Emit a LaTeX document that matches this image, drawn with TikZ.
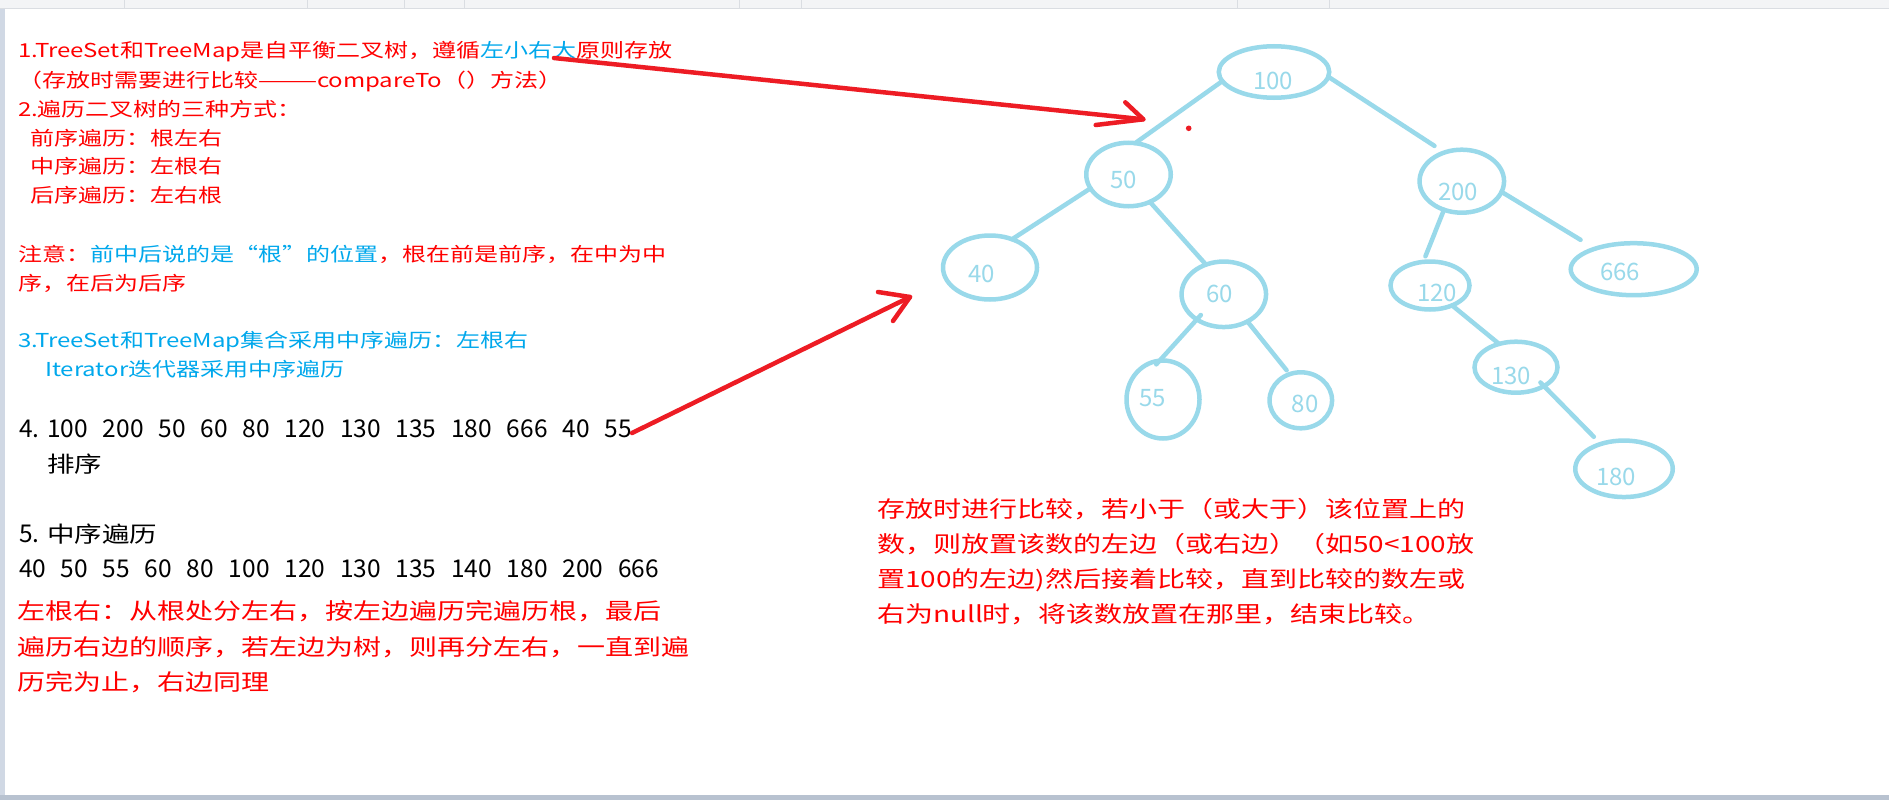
\documentclass[tikz,border=0pt]{standalone}
\usepackage{fontspec}
\usetikzlibrary{shapes.geometric,calc}
\newfontfamily\cjk[FakeStretch=1.25]{Noto Sans CJK SC}
\newfontfamily\cjkn{Noto Sans CJK SC}
\definecolor{tred}{RGB}{255,0,0}
\definecolor{tblue}{RGB}{0,168,236}
\definecolor{pred}{RGB}{237,28,36}
\definecolor{treec}{RGB}{153,217,234}
\definecolor{barbg}{RGB}{243,244,246}
\definecolor{barln}{RGB}{218,221,226}
\definecolor{sidec}{RGB}{208,216,228}
\definecolor{botc}{RGB}{184,194,208}
\begin{document}
\begin{tikzpicture}[x=1pt,y=-1pt,
  txt/.style={anchor=base west, inner sep=0pt, outer sep=0pt},
  toptxt/.style={txt, font=\cjk\fontsize{19.2}{24}\selectfont, text=tred},
  bigtxt/.style={txt, font=\cjk\fontsize{22.4}{28}\selectfont},
  numtxt/.style={txt, font=\cjkn\fontsize{24.5}{30}\selectfont},
  tnode/.style={ellipse, draw=treec, line width=4.5pt, inner sep=0pt, outer sep=0pt},
  tlabel/.style={inner sep=0pt, outer sep=0pt, text=treec, font=\cjkn\fontsize{24}{28}\selectfont},
  edge/.style={draw=treec, line width=4.5pt, line cap=round},
  parrow/.style={draw=pred, line width=4.5pt, line cap=round, line join=round}]
\useasboundingbox (0,0) rectangle (1889,800);
% window frame
\fill[white] (0,0) rectangle (1889,800);
\fill[barbg] (0,0) rectangle (1889,8);
\draw[barln, line width=1.5pt] (0,8.5) -- (1889,8.5);
\foreach \sx in {124,307,404,464,739,801,1237,1329}
  \draw[barln, line width=1pt] (\sx,0) -- (\sx,8);
\fill[sidec] (0,9) rectangle (5,800);
\fill[botc] (0,795) rectangle (1889,800);

% ---------- left text ----------
\node[toptxt] (l1) at (18,57.8) {1.TreeSet和TreeMap是自平衡二叉树，遵循\textcolor{tblue}{左小右大}原则存放};
\node[toptxt] (l2) at (18,87.0) {（存放时需要进行比较———compareTo（）方法）};
\node[toptxt] (l3) at (18,116.2) {2.遍历二叉树的三种方式：};
\node[toptxt] (l4) at (30,145.1) {前序遍历：根左右};
\node[toptxt] (l5) at (30,173.9) {中序遍历：左根右};
\node[toptxt] (l6) at (30,202.4) {后序遍历：左右根};
\node[toptxt] (l7) at (18,261.3) {注意：\textcolor{tblue}{前中后说的是“根”的位置}，根在前是前序，在中为中};
\node[toptxt] (l8) at (18,290.3) {序，在后为后序};
\node[toptxt, text=tblue] (l9) at (18,347.3) {3.TreeSet和TreeMap集合采用中序遍历：左根右};
\node[toptxt, text=tblue] (l10) at (45,376.3) {Iterator迭代器采用中序遍历};

\node[numtxt] (l11) at (19,437.5) {\spaceskip=14.8pt 4.\hspace{8pt}100 200 50 60 80 120 130 135 180 666 40 55};
\node[bigtxt, font=\cjk\fontsize{22}{28}\selectfont] (l12) at (47,472.5) {排序};
\node[numtxt] (l13a) at (19,542.6) {5.};
\node[bigtxt, font=\cjk\fontsize{22}{28}\selectfont] (l13) at (47,542.6) {中序遍历};
\node[numtxt] (l14) at (19,577.3) {\spaceskip=14.8pt 40 50 55 60 80 100 120 130 135 140 180 200 666};
\node[bigtxt, text=tred] (l15) at (17,619.6) {左根右：从根处分左右，按左边遍历完遍历根，最后};
\node[bigtxt, text=tred] (l16) at (17,655.1) {遍历右边的顺序，若左边为树，则再分左右，一直到遍};
\node[bigtxt, text=tred] (l17) at (17,690.2) {历完为止，右边同理};

% ---------- right text ----------
\node[bigtxt, text=tred] (r1) at (877,517.5) {存放时进行比较，若小于（或大于）该位置上的};
\node[bigtxt, text=tred] (r2) at (877,552.5) {数，则放置该数的左边（或右边）（如50<100放};
\node[bigtxt, text=tred] (r3) at (877,587.5) {置100的左边)然后接着比较，直到比较的数左或};
\node[bigtxt, text=tred] (r4) at (877,622.5) {右为null时，将该数放置在那里，结束比较。};

% ---------- tree ----------
\node[tnode, minimum width=110.5pt, minimum height=51.5pt] (n100) at (1274,72) {};
\node[tnode, minimum width=84.5pt, minimum height=63.5pt] (n50) at (1128.5,174.5) {};
\node[tnode, minimum width=94pt, minimum height=64pt] (n40) at (990,267.5) {};
\node[tnode, minimum width=84.5pt, minimum height=65.5pt] (n60) at (1223.8,294.3) {};
\node[tnode, minimum width=73pt, minimum height=78pt] (n55) at (1163,399.5) {};
\node[tnode, minimum width=62.5pt, minimum height=56pt] (n80) at (1300.8,400.3) {};
\node[tnode, minimum width=84.5pt, minimum height=63pt] (n200) at (1461.8,181.2) {};
\node[tnode, minimum width=126pt, minimum height=52pt] (n666) at (1633.7,269.2) {};
\node[tnode, minimum width=79pt, minimum height=48pt] (n120) at (1430,285.5) {};
\node[tnode, minimum width=83pt, minimum height=51pt] (n130) at (1516,367.2) {};
\node[tnode, minimum width=97.5pt, minimum height=56.5pt] (n180) at (1624,468.8) {};

\node[tlabel] (t100) at (1273.3,80.5) {100};
\node[tlabel] (t50) at (1123.7,180) {50};
\node[tlabel] (t40) at (981.7,274) {40};
\node[tlabel] (t60) at (1219.7,294) {60};
\node[tlabel] (t55) at (1152.7,398.3) {55};
\node[tlabel] (t80) at (1305.3,404) {80};
\node[tlabel] (t200) at (1458.3,191.7) {200};
\node[tlabel] (t666) at (1620,271.7) {666};
\node[tlabel] (t120) at (1437,293.3) {120};
\node[tlabel] (t130) at (1511,376) {130};
\node[tlabel] (t180) at (1616,477.3) {180};

\draw[edge] (n100.190) -- (n50.78);
\draw[edge, shorten >=12pt] (n100.355) -- (n200.121);
\draw[edge] (n50.200) -- (n40.52);
\draw[edge] (n50.308) -- (n60.121);
\draw[edge, shorten >=6pt] (n200.238) -- (n120.106);
\draw[edge, shorten >=17pt] (n200.345) -- (n666.152);
\draw[edge, shorten <=-6pt, shorten >=-5pt] (n60.223) -- (n55.95);
\draw[edge, shorten >=5pt] (n60.311) -- (n80.113);
\draw[edge] (n120.318) -- (n130.126);
\draw[edge, shorten <=-5pt, shorten >=10pt] (n130.326) -- (n180.133);

% ---------- red arrows ----------
\coordinate (a1s) at (554,58);
\coordinate (a1t) at (1143.3,119.3);
\draw[parrow] (a1s) -- (a1t);
\draw[parrow] ($(a1t)+(-18,-17)$) -- (a1t) -- ($(a1t)+(-47.6,5.7)$);
\coordinate (a2s) at (632,433);
\coordinate (a2t) at (910,297);
\draw[parrow] (a2s) -- (a2t);
\draw[parrow] ($(a2t)+(-32,-5)$) -- (a2t) -- ($(a2t)+(-17,24)$);
\fill[pred] (1188.7,128.3) circle (2.8);
\end{tikzpicture}
\end{document}
